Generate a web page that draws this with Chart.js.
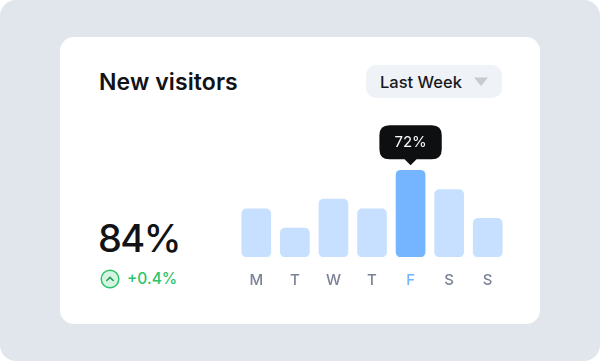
<!DOCTYPE html>
<html>
<head>
<title>New visitors</title>
<script src="https://cdn.jsdelivr.net/npm/chart.js@4"></script>
<style>
    html, body { margin: 0; padding: 0; background: #fff; }
    body { width: 600px; height: 361px; overflow: hidden; position: relative; font-family: Inter, sans-serif; }
    #bg { position: absolute; left: 0; top: 0; width: 600px; height: 361px; background: #e1e5ec; border-radius: 16px; }
    #card { position: absolute; left: 60px; top: 37px; width: 480px; height: 287px; background: #fff; border-radius: 14px; }
    .txt { position: absolute; white-space: nowrap; }
    #title { left: 99px; top: 67px; font-size: 23px; line-height: 30px; font-weight: 600; letter-spacing: 0.1px; color: #111316; }
    #select { position: absolute; left: 366px; top: 65px; width: 136px; height: 33px; background: #eff2f6; border-radius: 10px; }
    #range { left: 380px; top: 71px; font-size: 16.5px; line-height: 22px; font-weight: 500; color: #17191d; }
    #big { left: 98px; top: 215px; font-size: 38px; line-height: 46px; font-weight: 500; letter-spacing: -1.6px; color: #111316; }
    #delta { left: 127px; top: 268px; font-size: 15.5px; line-height: 22px; font-weight: 500; color: #2bc46a; }
    #up { position: absolute; left: 100px; top: 269px; }
    #arrow { position: absolute; left: 473px; top: 77px; }
    #stage-box { position: absolute; left: 237px; top: 122px; width: 270px; height: 178px; }
</style>
</head>
<body>
<div id="bg"></div>
<div id="card"></div>
<div class="txt" id="title">New visitors</div>
<div id="select"></div>
<div class="txt" id="range">Last Week</div>
<svg id="arrow" width="16" height="10"><path d="M1 0.5H15L8 9Z" fill="#c6cad1"/></svg>
<div class="txt" id="big">84%</div>
<svg id="up" width="20" height="20"><circle cx="10" cy="10" r="8.8" fill="#d6f4e2" stroke="#2bc46a" stroke-width="1.5"/><path d="M6.8 11.5L10 8.4L13.2 11.5" fill="none" stroke="#1f9c55" stroke-width="1.5" stroke-linecap="round" stroke-linejoin="round"/></svg>
<div class="txt" id="delta">+0.4%</div>
<div id="stage-box"><canvas id="stage"></canvas></div>
<script>
    var days = ['M', 'T', 'W', 'T', 'F', 'S', 'S'];
    var visitors = [40, 24, 48, 40, 72, 56, 32];
    var selected = 4; // friday is highlighted

    var chart = new Chart(document.getElementById('stage'), {
        type: 'bar',
        data: {
            labels: days,
            datasets: [{
                data: visitors,
                barThickness: 29,
                borderRadius: 5,
                borderSkipped: false,
                backgroundColor: days.map(function(d, i){ return i == selected ? '#75b5ff' : '#c8e0ff'; })
            }]
        },
        options: {
            responsive: true,
            maintainAspectRatio: false,
            animation: false,
            events: [],
            layout: { padding: 0 },
            plugins: {
                legend: { display: false },
                tooltip: {
                    enabled: true,
                    yAlign: 'bottom',
                    xAlign: 'center',
                    displayColors: false,
                    backgroundColor: '#0e0f11',
                    bodyColor: '#fff',
                    bodyFont: { family: 'Inter', size: 15, weight: '400' },
                    padding: { left: 15, right: 15, top: 8, bottom: 8 },
                    cornerRadius: 10,
                    caretSize: 6,
                    caretPadding: 5,
                    callbacks: {
                        title: function(){ return ''; },
                        label: function(ctx){ return ctx.parsed.y + '%'; }
                    }
                }
            },
            scales: {
                y: { display: false, min: 0, max: 112 },
                x: {
                    grid: { display: false },
                    border: { display: false },
                    afterFit: function(scale){ scale.height = 43; },
                    ticks: {
                        padding: 6,
                        maxRotation: 0,
                        autoSkip: false,
                        font: { family: 'Inter', size: 15, weight: '500' },
                        color: function(ctx){ return ctx.index == selected ? '#75b5ff' : '#7b8296'; }
                    }
                }
            }
        }
    });

    chart.tooltip.setActiveElements([{ datasetIndex: 0, index: selected }], { x: 0, y: 0 });
    chart.update();
</script>
</body>
</html>
